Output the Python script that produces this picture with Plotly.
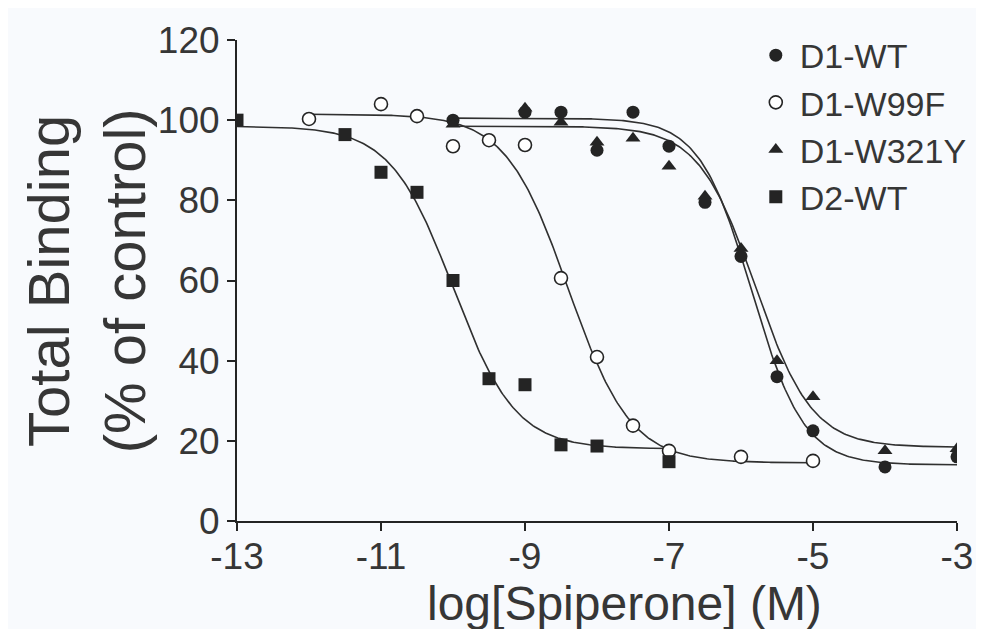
import numpy as np
import plotly.graph_objects as go

# ---- data ----
series_names = ["D1-WT", "D1-W99F", "D1-W321Y", "D2-WT"]

d1wt_x = [-10, -9, -8.5, -8, -7.5, -7, -6.5, -6, -5.5, -5, -4, -3]
d1wt_y = [100, 102, 102, 92.5, 102, 93.5, 79.5, 66, 36, 22.5, 13.5, 16]

w99f_x = [-12, -11, -10.5, -10, -9.5, -9, -8.5, -8, -7.5, -7, -6, -5]
w99f_y = [100.3, 104, 101, 93.5, 95, 93.8, 60.6, 40.9, 23.8, 17.5, 16, 15]

w321y_x = [-10, -9, -8.5, -8, -7.5, -7, -6.5, -6, -5.5, -5, -4, -3]
w321y_y = [99, 103, 99.5, 94.5, 95.5, 88.5, 81, 68, 40, 31, 17.5, 18]

d2wt_x = [-13, -11.5, -11, -10.5, -10, -9.5, -9, -8.5, -8, -7]
d2wt_y = [100, 96.4, 87, 82, 60, 35.5, 34, 19, 18.7, 14.8]

# fitted sigmoid parameters: top, bottom, logIC50, hill, x-start, x-end
fit_top = [100.5, 101.5, 98.5, 98.5]
fit_bottom = [14.0, 14.5, 18.4, 18.0]
fit_logic50 = [-5.85, -8.4, -5.8, -10.0]
fit_hill = [1.2, 1.0, 1.1, 1.0]
fit_start = [-10, -12, -10, -13]
fit_end = [-3, -5, -3, -7]

x_ticks = [-13, -11, -9, -7, -5, -3]
y_ticks = [0, 20, 40, 60, 80, 100, 120]

INK = "#242424"
TXT = "#363636"
FONT = "Liberation Sans, Arial, sans-serif"

fig = go.Figure()

# fitted curves
for i in range(4):
    xs = np.linspace(fit_start[i], fit_end[i], 300)
    ys = fit_bottom[i] + (fit_top[i] - fit_bottom[i]) / (1 + 10 ** (fit_hill[i] * (xs - fit_logic50[i])))
    fig.add_trace(go.Scatter(x=xs, y=ys, mode="lines", line=dict(color="#303030", width=1.6),
                             showlegend=False, hoverinfo="skip"))

pts = [
    (d1wt_x, d1wt_y, dict(symbol="circle", size=13, color=INK)),
    (w99f_x, w99f_y, dict(symbol="circle", size=13, color="white", line=dict(color=INK, width=1.6))),
    (w321y_x, w321y_y, dict(symbol="triangle-up", size=13, color=INK)),
    (d2wt_x, d2wt_y, dict(symbol="square", size=13, color=INK)),
]
for name, (xs, ys, mk) in zip(series_names, pts):
    fig.add_trace(go.Scatter(x=xs, y=ys, mode="markers", name=name, marker=mk))

fig.update_layout(
    width=984, height=629,
    margin=dict(l=229, r=35, t=30, b=116),
    paper_bgcolor="#f8fafd", plot_bgcolor="#f8fafd",
    font=dict(family=FONT, color=TXT),
    legend=dict(x=0.715, y=1.028, xanchor="left", yanchor="top", bgcolor="rgba(0,0,0,0)",
                font=dict(size=34, color=TXT), itemwidth=38, tracegroupgap=0),
    xaxis=dict(range=[-13, -3], tickvals=x_ticks, ticktext=[str(v) for v in x_ticks],
               showgrid=False, zeroline=False, showline=True, linecolor=INK, linewidth=2,
               ticks="outside", ticklen=8, tickwidth=2, tickcolor=INK,
               ticklabelstandoff=-6,
               tickfont=dict(size=37, color=TXT), fixedrange=True),
    yaxis=dict(range=[0, 120], tickvals=y_ticks, showgrid=False, zeroline=False,
               showline=True, linecolor=INK, linewidth=2,
               ticks="outside", ticklen=8, tickwidth=2, tickcolor=INK,
               tickfont=dict(size=37, color=TXT), fixedrange=True),
    annotations=[
        dict(text="log[Spiperone] (M)", xref="paper", yref="paper", x=0.538, y=-0.172,
             xanchor="center", yanchor="middle", showarrow=False,
             font=dict(size=48, color=TXT)),
        dict(text="Total Binding<br>(% of control)", xref="paper", yref="paper", x=-0.21, y=0.5,
             xanchor="center", yanchor="middle", showarrow=False, textangle=-90,
             font=dict(size=58, color=TXT)),
    ],
)

fig.write_html("out.html")
